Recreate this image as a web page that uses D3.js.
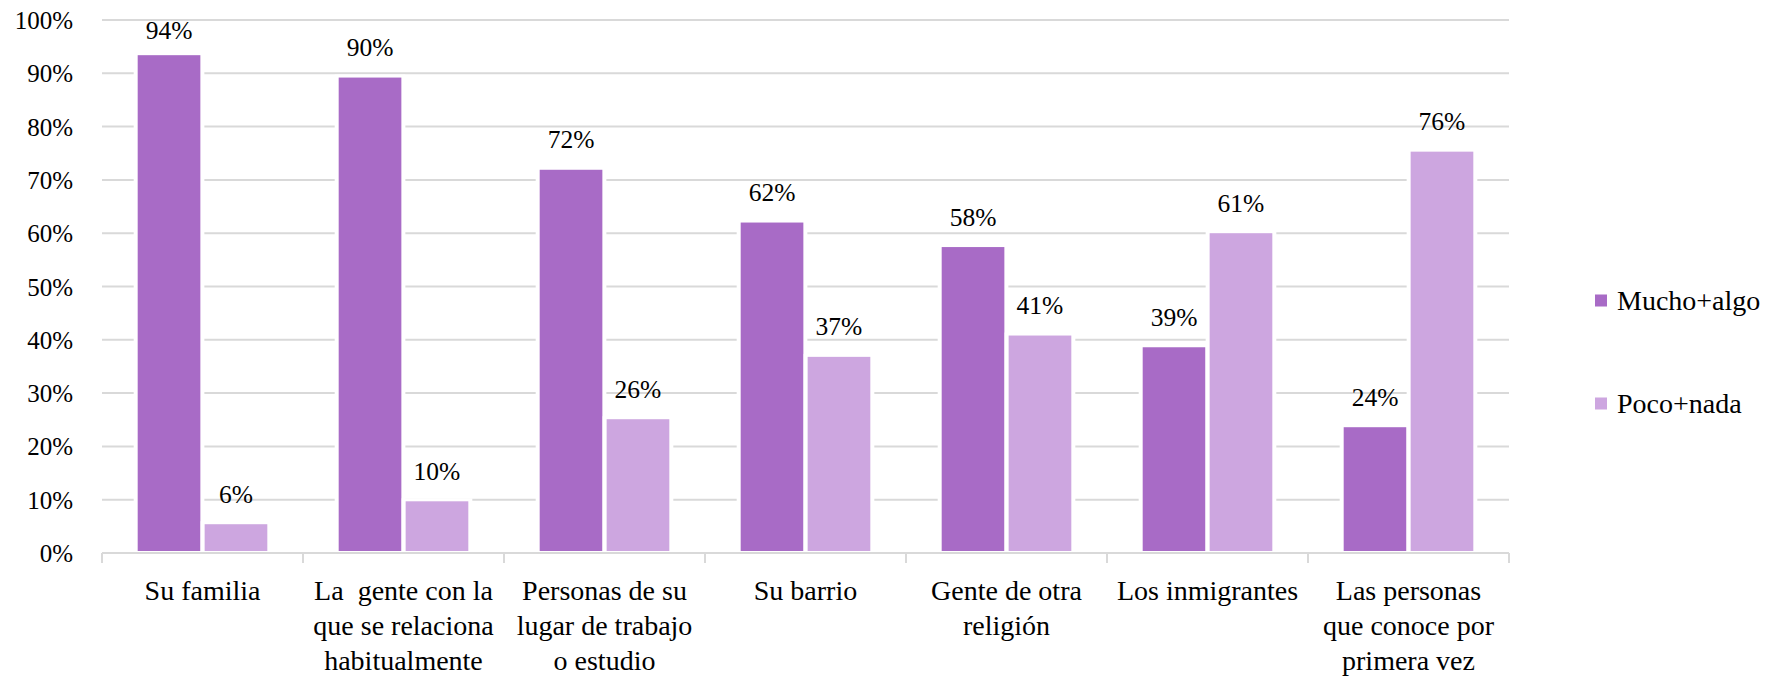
<!DOCTYPE html>
<html>
<head>
<meta charset="utf-8">
<script src="https://cdn.jsdelivr.net/npm/d3@7"></script>
<style>
  html, body { margin: 0; padding: 0; background: #fff; }
  svg { display: block; }
</style>
</head>
<body>
<svg id="chart" width="1767" height="678"></svg>
<script>
// ---- data ----
const categories = [
  ["Su familia"],
  ["La  gente con la", "que se relaciona", "habitualmente"],
  ["Personas de su", "lugar de trabajo", "o estudio"],
  ["Su barrio"],
  ["Gente de otra", "religión"],
  ["Los inmigrantes"],
  ["Las personas", "que conoce por", "primera vez"]
];
const seriesNames = ["Mucho+algo", "Poco+nada"];
const muchoValues = [93.4, 89.2, 71.9, 62.0, 57.4, 38.6, 23.6];
const pocoValues  = [5.4, 9.7, 25.1, 36.8, 40.8, 60.0, 75.3];
const muchoLabels = ["94%", "90%", "72%", "62%", "58%", "39%", "24%"];
const pocoLabels  = ["6%", "10%", "26%", "37%", "41%", "61%", "76%"];
const yTicks = [0, 10, 20, 30, 40, 50, 60, 70, 80, 90, 100];
const colors = ["#a86bc6", "#cda6e0"];

const FONT = '"Liberation Serif", serif';

// ---- layout ----
const svg = d3.select("#chart");
const plotLeft = 102, plotRight = 1509, plotTop = 20, plotBottom = 553;

const x0 = d3.scaleBand().domain(d3.range(categories.length)).range([plotLeft, plotRight]).padding(0);
const x1 = d3.scaleBand().domain(seriesNames).range([0, x0.bandwidth()])
  .paddingInner(0.064).paddingOuter(0.533);
const y = d3.scaleLinear().domain([0, 100]).range([plotBottom, plotTop]);

const series = [
  { name: seriesNames[0], values: muchoValues, labels: muchoLabels, color: colors[0] },
  { name: seriesNames[1], values: pocoValues, labels: pocoLabels, color: colors[1] }
];

// gridlines
svg.append("g").selectAll("line")
  .data(yTicks.filter(d => d > 0))
  .join("line")
  .attr("x1", plotLeft).attr("x2", plotRight)
  .attr("y1", d => y(d)).attr("y2", d => y(d))
  .attr("stroke", "#d9d9d9").attr("stroke-width", 2);

// y tick labels
svg.append("g").selectAll("text")
  .data(yTicks)
  .join("text")
  .style("font-family", FONT)
  .attr("x", 73).attr("y", d => y(d))
  .attr("dy", "0.36em")
  .attr("text-anchor", "end")
  .attr("font-size", 25)
  .attr("fill", "#000")
  .text(d => d + "%");

// bars
const groups = svg.append("g").selectAll("g")
  .data(series).join("g");

groups.each(function(s) {
  const g = d3.select(this);
  const bx = i => x0(i) + x1(s.name);
  g.selectAll("rect.halo").data(s.values).join("rect")
    .attr("class", "halo")
    .attr("x", (d, i) => bx(i) - 4)
    .attr("width", x1.bandwidth() + 8)
    .attr("y", d => y(d) - 3)
    .attr("height", d => y(0) - y(d) + 3)
    .attr("fill", "#fff");
});
groups.each(function(s) {
  const g = d3.select(this);
  const bx = i => x0(i) + x1(s.name);
  g.selectAll("rect.bar").data(s.values).join("rect")
    .attr("class", "bar")
    .attr("x", (d, i) => bx(i))
    .attr("width", x1.bandwidth())
    .attr("y", d => y(d))
    .attr("height", d => y(0) - y(d) - 2)
    .attr("fill", s.color);
  g.selectAll("text.lbl").data(s.values).join("text")
    .attr("class", "lbl")
    .style("font-family", FONT)
    .attr("x", (d, i) => bx(i) + x1.bandwidth() / 2)
    .attr("y", d => Math.max(y(d) - 21.5, 38.5))
    .attr("text-anchor", "middle")
    .attr("font-size", 25.5)
    .attr("fill", "#000")
    .text((d, i) => s.labels[i]);
});

// x axis line and ticks
svg.append("line")
  .attr("x1", plotLeft).attr("x2", plotRight)
  .attr("y1", y(0)).attr("y2", y(0))
  .attr("stroke", "#d9d9d9").attr("stroke-width", 2);
const boundaries = d3.range(categories.length + 1).map(i => i < categories.length ? x0(i) : plotRight);
svg.append("g").selectAll("line")
  .data(boundaries).join("line")
  .attr("x1", d => d).attr("x2", d => d)
  .attr("y1", y(0)).attr("y2", y(0) + 10)
  .attr("stroke", "#d9d9d9").attr("stroke-width", 2);

// category labels
const cat = svg.append("g").selectAll("text")
  .data(categories).join("text")
  .style("font-family", FONT)
  .attr("x", (d, i) => x0(i) + x0.bandwidth() / 2)
  .attr("y", 600)
  .attr("text-anchor", "middle")
  .attr("font-size", 28)
  .attr("fill", "#000")
  .style("white-space", "pre");
cat.each(function(lines, i) {
  d3.select(this).selectAll("tspan").data(lines).join("tspan")
    .attr("x", x0(i) + x0.bandwidth() / 2)
    .attr("dy", (d, j) => j === 0 ? 0 : 35)
    .text(d => d);
});

// legend
const legendY = [300.5, 403.5];
const legend = svg.append("g").selectAll("g")
  .data(series).join("g")
  .attr("transform", (d, i) => `translate(1595, ${legendY[i]})`);
legend.append("rect")
  .attr("x", 0).attr("y", -6).attr("width", 12).attr("height", 12)
  .attr("fill", d => d.color);
legend.append("text")
  .style("font-family", FONT)
  .attr("x", 22).attr("y", 0).attr("dy", "0.35em")
  .attr("font-size", 28)
  .attr("fill", "#000")
  .text(d => d.name);
</script>
</body>
</html>
